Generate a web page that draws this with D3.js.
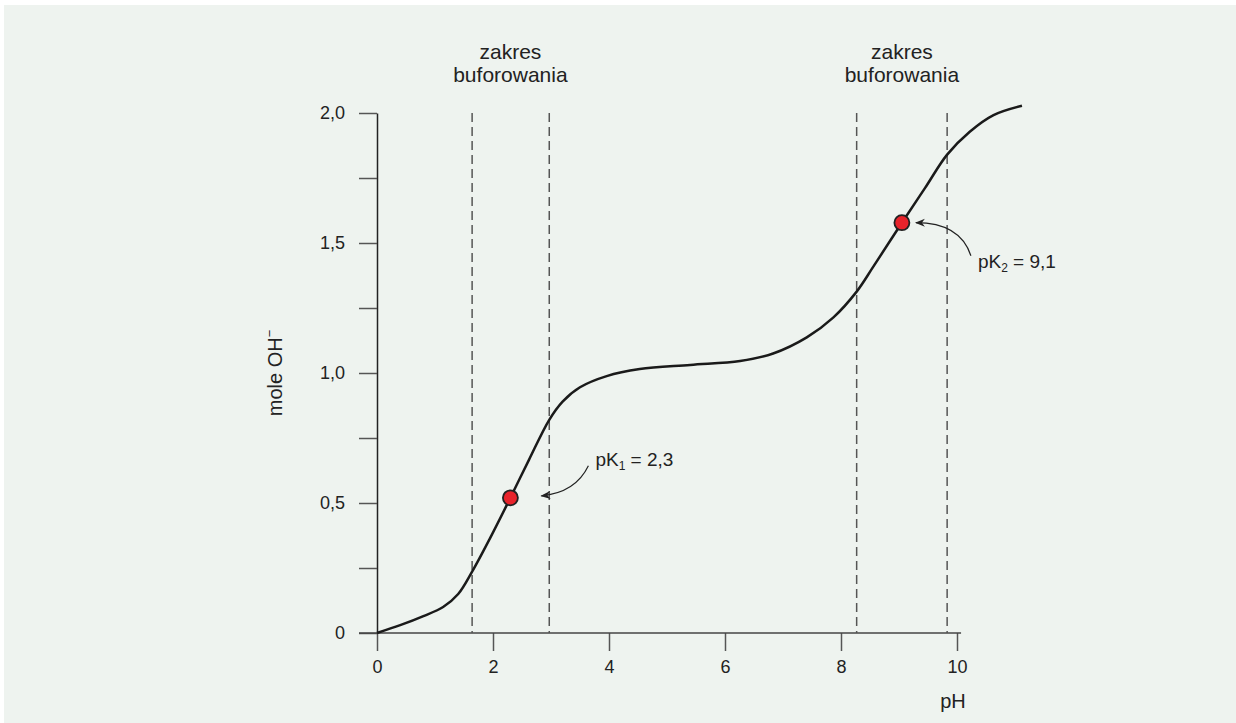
<!DOCTYPE html>
<html>
<head>
<meta charset="utf-8">
<script src="https://cdn.jsdelivr.net/npm/d3@7"></script>
<style>
  body { margin: 0; background: #fff; }
  text { font-family: "Liberation Sans", Arial, sans-serif; fill: #222; }
</style>
</head>
<body>
<div id="chart"></div>
<script>
// curve (pH, mole OH-)
var phValues   = [0, 0.4, 0.8, 1.14, 1.40, 1.64, 1.95, 2.30, 2.62, 2.97, 3.2, 3.5, 3.96, 4.53, 5.40, 6.26, 6.83, 7.41, 7.87, 8.27, 8.56, 9.05, 9.45, 9.83, 10.22, 10.63, 11.12];
var moleValues = [0, 0.03, 0.065, 0.10, 0.15, 0.236, 0.365, 0.52, 0.666, 0.82, 0.89, 0.945, 0.988, 1.015, 1.031, 1.046, 1.075, 1.137, 1.214, 1.313, 1.41, 1.578, 1.712, 1.84, 1.928, 1.992, 2.028];

// dashed limits of the buffer ranges
var bufferLines = [1.64, 2.97, 8.27, 9.83];
var bufferLabelCenters = [2.3, 9.05];

// pK points
var pkPh   = [2.3, 9.05];
var pkMole = [0.52, 1.578];
var pkLabels = [["pK", "1", " = 2,3"], ["pK", "2", " = 9,1"]];

var xTicks = [0, 2, 4, 6, 8, 10];
var yTicks = [0, 0.25, 0.5, 0.75, 1, 1.25, 1.5, 1.75, 2];
var yTickLabels = {"0": "0", "0.5": "0,5", "1": "1,0", "1.5": "1,5", "2": "2,0"};

var svgWidth = 1236;
var svgHeight = 723;

var svg = d3.select("#chart")
    .append("svg")
    .attr("width", svgWidth)
    .attr("height", svgHeight);

// light panel
svg.append("rect")
    .attr("x", 4)
    .attr("y", 5)
    .attr("width", svgWidth - 4)
    .attr("height", svgHeight - 5)
    .attr("fill", "#eef3ef");

var x = d3.scaleLinear().domain([0, 10]).range([377, 957]);
var y = d3.scaleLinear().domain([0, 2]).range([633, 113]);

// y axis
var yAxis = d3.axisLeft(y)
    .tickValues(yTicks)
    .tickSize(18)
    .tickSizeOuter(0)
    .tickPadding(14)
    .tickFormat(d => yTickLabels[String(d)] || "");

var gy = svg.append("g")
    .attr("transform", `translate(${x(0)},0)`)
    .call(yAxis);
gy.select(".domain").attr("stroke", "#222").attr("stroke-width", 1.5);
gy.selectAll(".tick line").attr("stroke", "#555").attr("stroke-width", 1.5);
gy.selectAll(".tick text")
    .style("font-family", "Liberation Sans, Arial, sans-serif")
    .style("font-size", "18px")
    .attr("fill", "#222");

// x axis
var xAxis = d3.axisBottom(x)
    .tickValues(xTicks)
    .tickSize(18)
    .tickSizeOuter(0)
    .tickPadding(9);

var gx = svg.append("g")
    .attr("transform", `translate(0,${y(0)})`)
    .call(xAxis);
gx.select(".domain").remove();
gx.selectAll(".tick line").attr("stroke", "#555").attr("stroke-width", 1.5);
gx.selectAll(".tick text")
    .style("font-family", "Liberation Sans, Arial, sans-serif")
    .style("font-size", "18px")
    .attr("fill", "#222");
gx.append("line")
    .attr("x1", x(0) - 18)
    .attr("x2", x(10.07))
    .attr("stroke", "#444")
    .attr("stroke-width", 1.5);

// dashed buffer limits
svg.selectAll(".buffer")
    .data(bufferLines)
    .enter()
    .append("line")
        .attr("class", "buffer")
        .attr("x1", d => x(d))
        .attr("x2", d => x(d))
        .attr("y1", y(2))
        .attr("y2", y(0))
        .attr("stroke", "#555")
        .attr("stroke-width", 1.5)
        .attr("stroke-dasharray", "9,5");

// buffer labels
bufferLabelCenters.forEach(function(c) {
    var t = svg.append("text")
        .attr("x", x(c))
        .attr("y", 59)
        .attr("text-anchor", "middle")
        .style("font-size", "21px");
    t.append("tspan").attr("x", x(c)).text("zakres");
    t.append("tspan").attr("x", x(c)).attr("dy", 23).text("buforowania");
});

// titration curve
var curveData = phValues.map((p, i) => [p, moleValues[i]]);
var line = d3.line()
    .x(d => x(d[0]))
    .y(d => y(d[1]))
    .curve(d3.curveCatmullRom.alpha(0.5));

svg.append("path")
    .datum(curveData)
    .attr("d", line)
    .attr("fill", "none")
    .attr("stroke", "#1a1a1a")
    .attr("stroke-width", 2.5);

// pK points
svg.selectAll(".pk")
    .data(pkPh)
    .enter()
    .append("circle")
        .attr("class", "pk")
        .attr("cx", d => x(d))
        .attr("cy", (d, i) => y(pkMole[i]))
        .attr("r", 7.5)
        .attr("fill", "#e8232b")
        .attr("stroke", "#222")
        .attr("stroke-width", 1.8);

// arrow head marker
svg.append("defs").append("marker")
    .attr("id", "arrow")
    .attr("viewBox", "0 0 10 10")
    .attr("refX", 9)
    .attr("refY", 5)
    .attr("markerWidth", 10)
    .attr("markerHeight", 10)
    .attr("markerUnits", "userSpaceOnUse")
    .attr("orient", "auto")
  .append("path")
    .attr("d", "M0,1 L10,5 L0,9 L3,5 Z")
    .attr("fill", "#222");

// arrows from labels to the points (offsets relative to the point)
var arrowPaths = [
    [[78, -32], [65, -5], [31, -2]],
    [[69, 33], [58, 0], [14, 0]]
];
arrowPaths.forEach(function(a, i) {
    var px = x(pkPh[i]), py = y(pkMole[i]);
    svg.append("path")
        .attr("d", `M${px + a[0][0]},${py + a[0][1]} Q${px + a[1][0]},${py + a[1][1]} ${px + a[2][0]},${py + a[2][1]}`)
        .attr("fill", "none")
        .attr("stroke", "#222")
        .attr("stroke-width", 1.2)
        .attr("marker-end", "url(#arrow)");
});

// pK labels
var labelPos = [[85, -32], [76, 45]];
pkLabels.forEach(function(l, i) {
    var t = svg.append("text")
        .attr("x", x(pkPh[i]) + labelPos[i][0])
        .attr("y", y(pkMole[i]) + labelPos[i][1])
        .style("font-size", "19px");
    t.append("tspan").text(l[0]);
    t.append("tspan").attr("dy", 4).style("font-size", "12px").text(l[1]);
    t.append("tspan").attr("dy", -4).text(l[2]);
});

// axis titles
var yt = svg.append("text")
    .attr("transform", `translate(282,${y(1)}) rotate(-90)`)
    .attr("text-anchor", "middle")
    .style("font-size", "20px");
yt.append("tspan").text("mole OH");
yt.append("tspan").attr("dy", -8).style("font-size", "13px").text("\u2212");

svg.append("text")
    .attr("x", x(10) - 4)
    .attr("y", 708)
    .attr("text-anchor", "middle")
    .style("font-size", "20px")
    .text("pH");
</script>
</body>
</html>
